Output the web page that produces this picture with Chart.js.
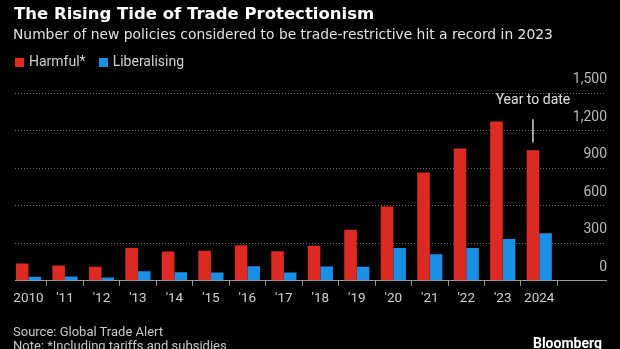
<!DOCTYPE html>
<html>
<head>
<meta charset="utf-8">
<script src="https://cdn.jsdelivr.net/npm/chart.js@4/dist/chart.umd.min.js"></script>
<style>
  html, body { margin: 0; padding: 0; background: #000; }
  #wrap { position: relative; width: 620px; height: 349px; overflow: hidden; background: #000; font-family: Roboto, "Noto Sans", sans-serif; }
  #wrap canvas { position: absolute; left: 0; top: 0; }
  .txt { position: absolute; white-space: nowrap; }
  .title { left: 14px; top: 3px; line-height: 22px; font-size: 16.5px; font-weight: 700; color: #fff; font-family: "DejaVu Sans", sans-serif; }
  .sub { left: 13px; top: 24px; line-height: 20px; font-size: 13.85px; color: #e2e2e2; font-family: "DejaVu Sans", sans-serif; }
  .legend { left: 15px; top: 51px; line-height: 20px; font-size: 14px; color: #d0d0d0; }
  .sw { display: inline-block; width: 9px; height: 9px; margin-right: 5px; vertical-align: -1px; }
  .src { left: 13px; top: 323px; line-height: 18px; font-size: 13px; color: #c8c8c8; }
  .note { left: 13px; top: 337px; line-height: 18px; font-size: 13px; color: #c8c8c8; }
  .brand { right: 18px; top: 334px; line-height: 18px; font-size: 14px; font-weight: 700; color: #fff; }
</style>
</head>
<body>
<div id="wrap">
  <canvas id="chart" width="620" height="349"></canvas>
  <div class="txt title">The Rising Tide of Trade Protectionism</div>
  <div class="txt sub">Number of new policies considered to be trade-restrictive hit a record in 2023</div>
  <div class="txt legend"><span class="sw" style="background:#dd2a22"></span>Harmful*<span class="sw" style="background:#1a8fe3;margin-left:13px"></span>Liberalising</div>
  <div class="txt src">Source: Global Trade Alert</div>
  <div class="txt note">Note: *Including tariffs and subsidies</div>
  <div class="txt brand">Bloomberg</div>
</div>
<script>
// data
const years = ['2010', "'11", "'12", "'13", "'14", "'15", "'16", "'17", "'18", "'19", "'20", "'21", "'22", "'23", '2024'];
const harmful = [138, 123, 112, 262, 235, 240, 283, 237, 280, 408, 593, 865, 1057, 1273, 1043];
const liberalising = [32, 35, 27, 77, 69, 67, 117, 67, 115, 112, 262, 213, 262, 334, 379];
const yTicks = [0, 300, 600, 900, 1200, 1500];
const noteText = 'Year to date';
const noteIndex = 14;          // bar the note points at
const noteLine = [1105, 1290]; // value range of the little marker line
const noteLabelAt = 1440;

const RED = '#dd2a22';
const BLUE = '#1a8fe3';

const toPoints = arr => arr.map((v, i) => ({ x: i, y: v }));

// "Year to date" marker over the 2024 harmful bar
const yearToDate = {
  id: 'yearToDate',
  afterDatasetsDraw(chart) {
    const bar = chart.getDatasetMeta(0).data[noteIndex];
    if (!bar) return;
    const y = chart.scales.y;
    const ctx = chart.ctx;
    ctx.save();
    ctx.strokeStyle = '#d0d0d0';
    ctx.lineWidth = 1.5;
    ctx.beginPath();
    ctx.moveTo(bar.x, y.getPixelForValue(noteLine[0]));
    ctx.lineTo(bar.x, y.getPixelForValue(noteLine[1]));
    ctx.stroke();
    ctx.fillStyle = '#e0e0e0';
    ctx.font = '14px Roboto, "Noto Sans", sans-serif';
    ctx.textAlign = 'center';
    ctx.textBaseline = 'middle';
    ctx.fillText(noteText, bar.x, y.getPixelForValue(noteLabelAt));
    ctx.restore();
  }
};

new Chart(document.getElementById('chart'), {
  type: 'bar',
  data: {
    datasets: [
      { label: 'Harmful*', data: toPoints(harmful), backgroundColor: RED },
      { label: 'Liberalising', data: toPoints(liberalising), backgroundColor: BLUE }
    ]
  },
  options: {
    responsive: false,
    animation: false,
    events: [],
    categoryPercentage: 0.69,
    barPercentage: 1,
    layout: { padding: { left: 15, right: 12, top: 93, bottom: 37 } },
    plugins: { legend: { display: false }, tooltip: { enabled: false } },
    scales: {
      x: {
        type: 'linear',
        min: -0.37,
        max: 15.83,
        offset: false,
        afterBuildTicks: s => { s.ticks = years.map((_, i) => ({ value: i })); },
        ticks: {
          autoSkip: false, maxRotation: 0, padding: 5,
          color: '#d0d0d0',
          font: { family: 'Roboto, "Noto Sans", sans-serif', size: 13.5 },
          callback: v => years[v] ?? ''
        },
        grid: { drawOnChartArea: false, drawTicks: true, tickLength: 5, color: '#9a9a9a' },
        border: { display: true, color: '#9a9a9a', width: 1 }
      },
      y: {
        position: 'right',
        min: 0,
        max: 1500,
        afterBuildTicks: s => { s.ticks = yTicks.map(v => ({ value: v })); },
        ticks: {
          mirror: true, padding: 1, labelOffset: -13.5,
          color: '#b8b8b8',
          font: { family: 'Roboto, "Noto Sans", sans-serif', size: 14 },
          callback: v => v.toLocaleString('en-US')
        },
        grid: { drawTicks: false, color: '#6a6a6a', lineWidth: 1 },
        border: { display: false, dash: [1, 2] }
      }
    }
  },
  plugins: [yearToDate]
});
</script>
</body>
</html>
